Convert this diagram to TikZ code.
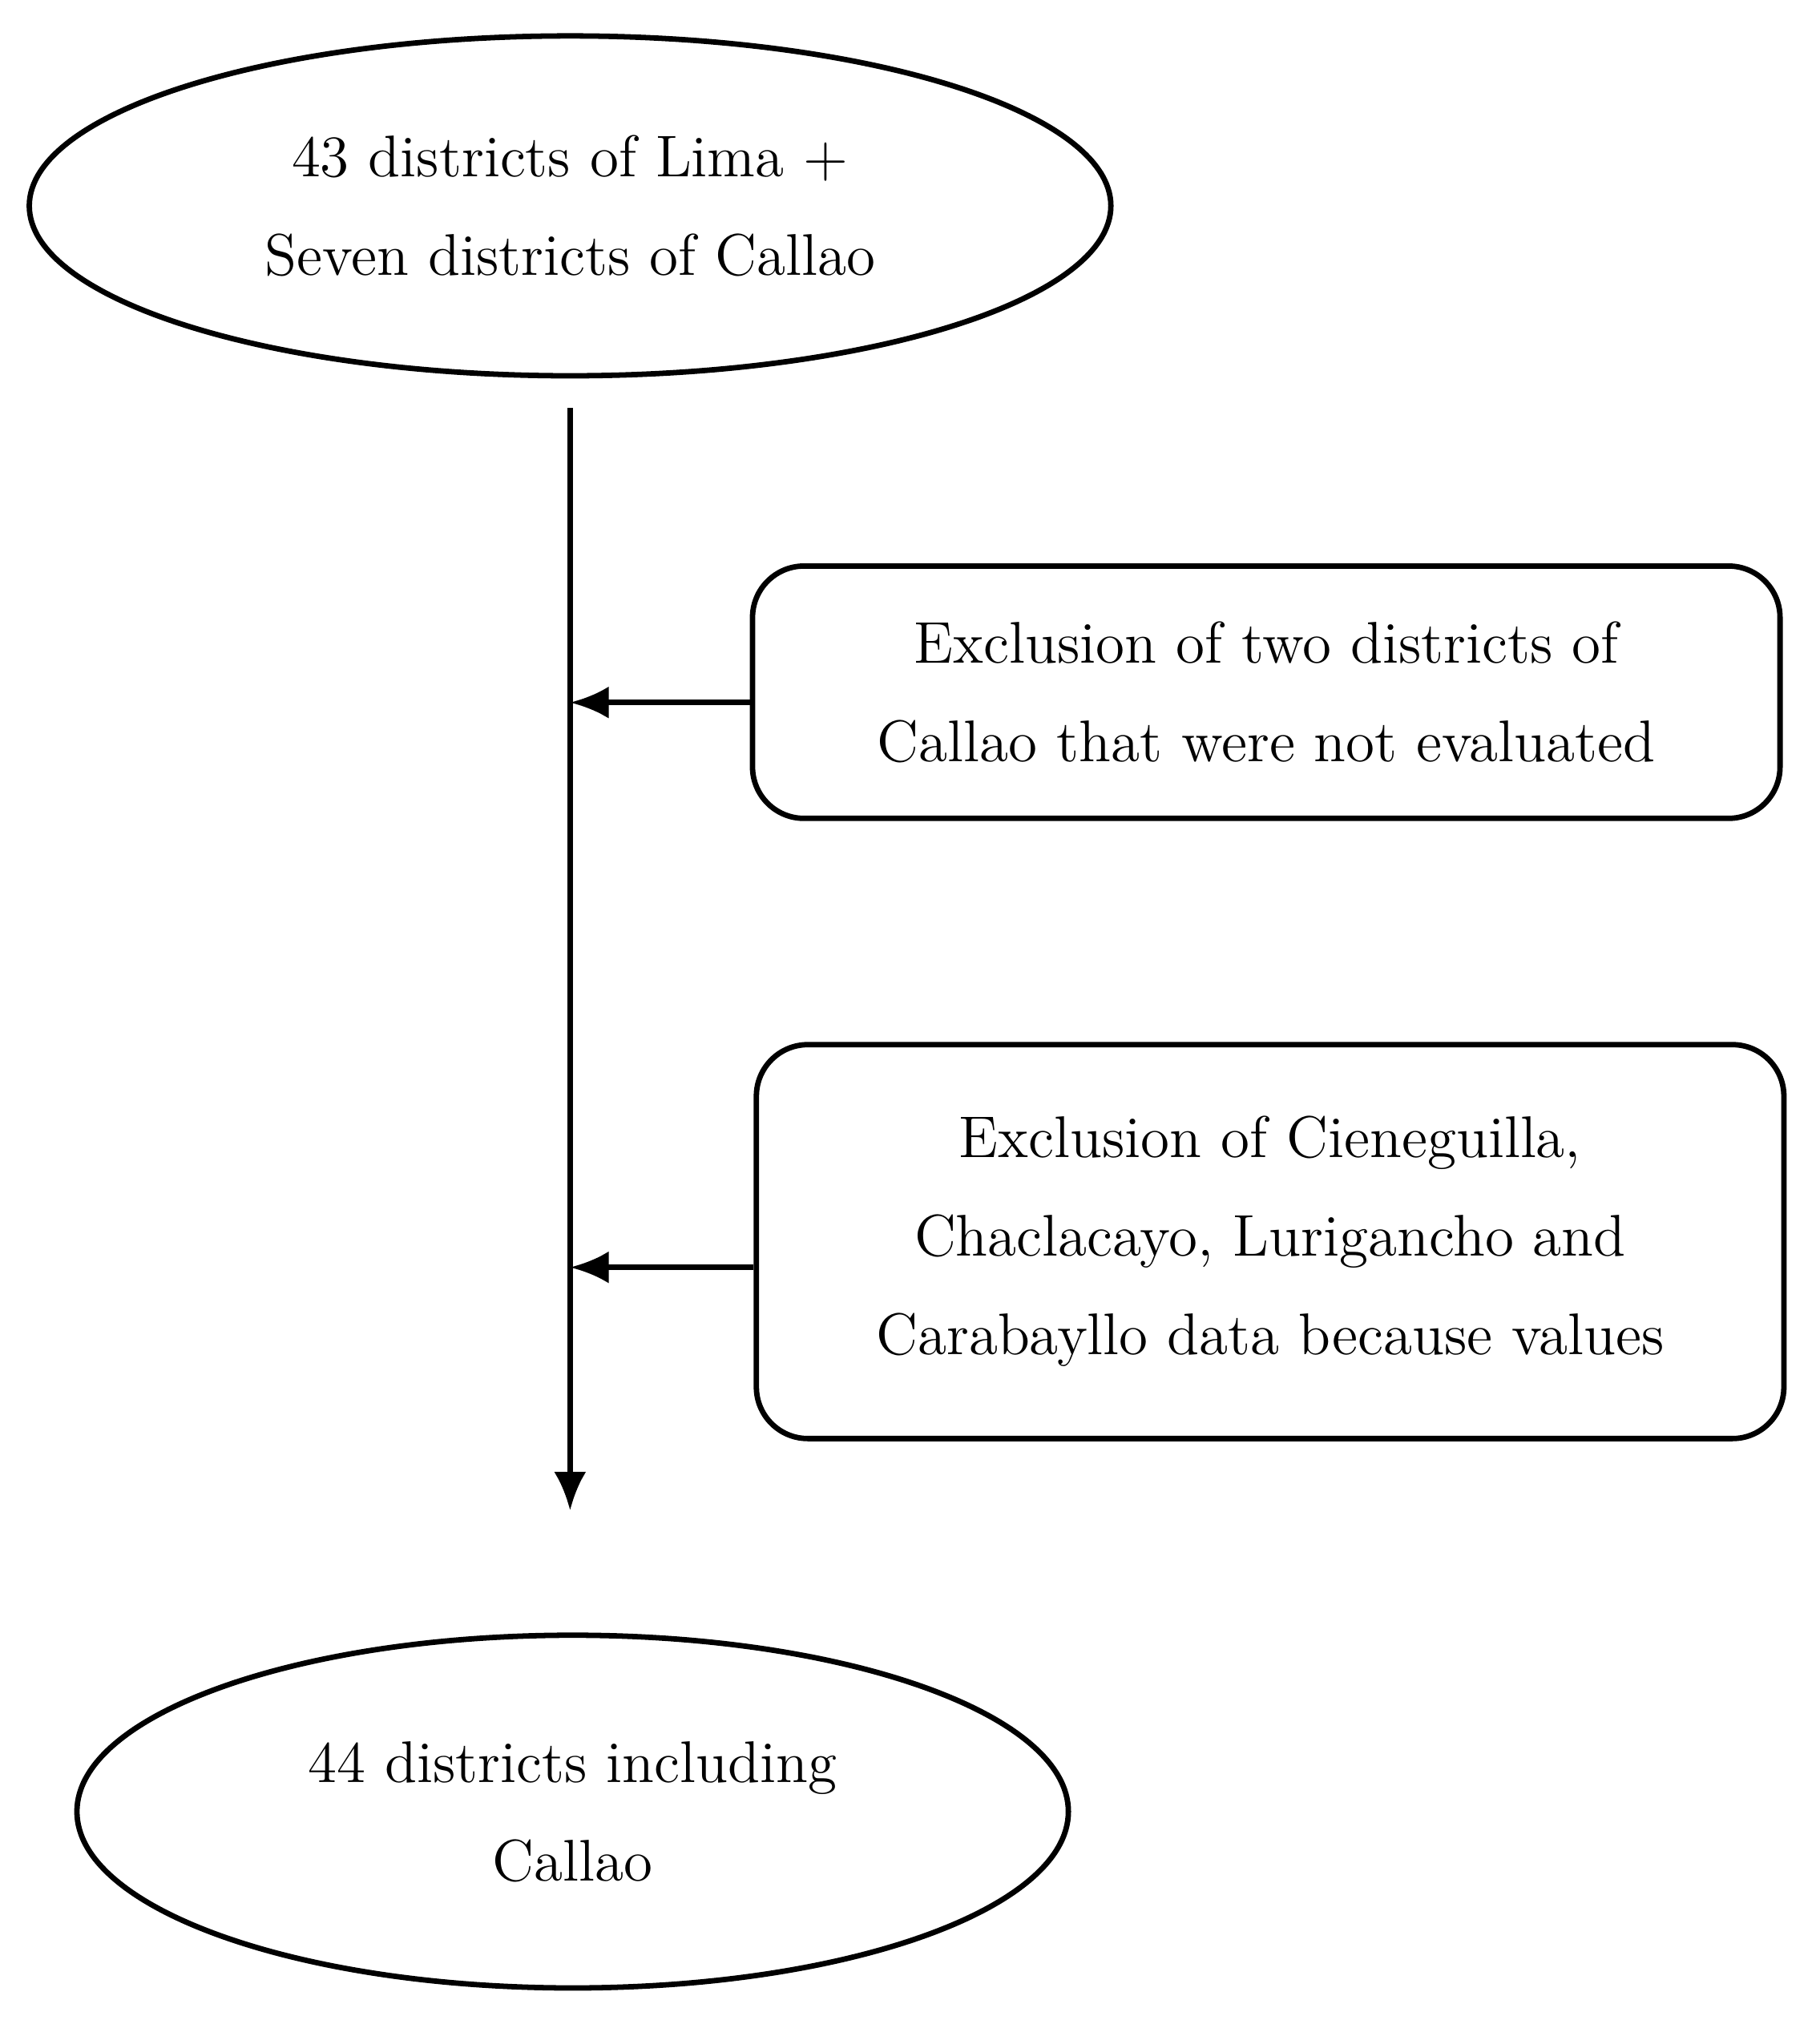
\documentclass[tikz,border=0pt]{standalone}
\usetikzlibrary{positioning,shapes.geometric,arrows.meta}
\begin{document}
\begin{tikzpicture}[x=0.01cm,y=-0.01cm]

% Define styles
\tikzset{
  oval/.style={draw, ellipse, line width=1.2pt, align=center, font=\fontsize{13}{21.8}\selectfont},
  exclbox/.style={draw, rounded corners=0.4cm, line width=1.2pt, align=center, font=\fontsize{13}{21.8}\selectfont},
  flow/.style={line width=1.2pt, -{Latex[length=0.3cm,width=0.25cm]}}
}

\useasboundingbox (0,0) rectangle (1414,1570);

% Draw start and end
\node[oval, minimum width=8.4cm, minimum height=2.64cm] (start) at (443,160) {43 districts of Lima +\\Seven districts of Callao};
\node[oval, minimum width=7.7cm, minimum height=2.74cm] (finish) at (445,1408) {44 districts including\\Callao};

% Draw exclusion boxes
\node[exclbox, minimum width=7.98cm, minimum height=1.96cm] (exclA) at (984,538) {Exclusion of two districts of\\Callao that were not evaluated};
\node[exclbox, minimum width=7.98cm, minimum height=3.06cm] (exclB) at (987,965) {Exclusion of Cieneguilla,\\Chaclacayo, Lurigancho and\\Carabayllo data because values};

% Main line
\coordinate (top) at (443,317);
\coordinate (bottom) at (443,1174);
\coordinate (joinA) at (443,546);
\coordinate (joinB) at (443,985);
\draw[flow] (top) -- (bottom);

% Side arrows
\draw[flow] (exclA.west |- joinA) -- (joinA);
\draw[flow] (exclB.west |- joinB) -- (joinB);

\end{tikzpicture}
\end{document}
